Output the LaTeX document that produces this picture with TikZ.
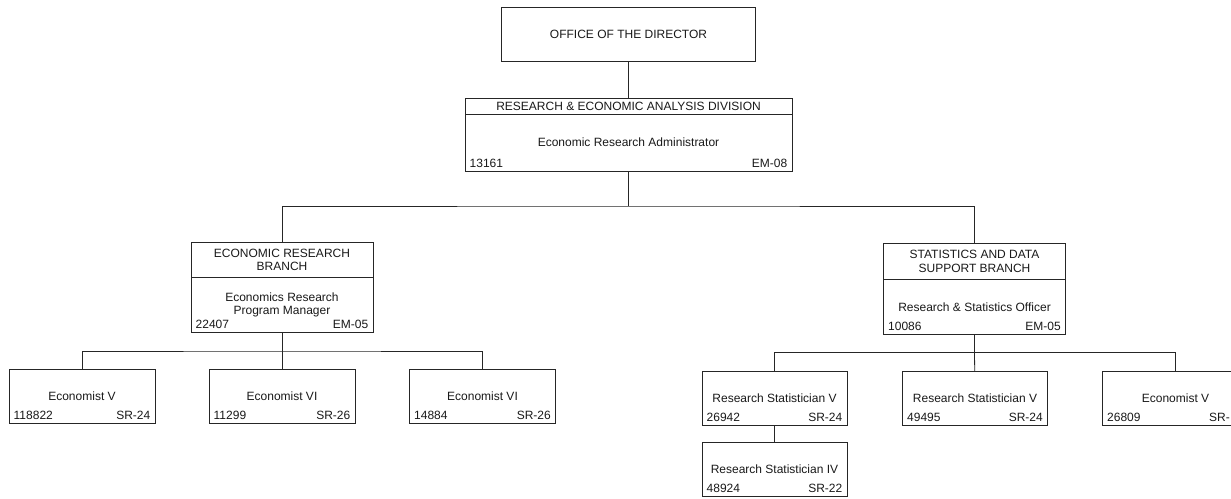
\documentclass[tikz,border=0pt]{standalone}
\usepackage{fontspec}
\setmainfont{Liberation Sans}
\usepackage{tikz}
\newcommand{\chartfont}{\fontsize{12}{13.7}\selectfont}

\begin{document}
\begin{tikzpicture}[x=1pt,y=-1pt,
    post/.style={draw=black!85, line width=0.8pt, outer sep=0pt, inner sep=0pt, align=center, font=\chartfont, text=black!90},
    num/.style={font=\chartfont, text=black!90, inner sep=0pt, anchor=base west, xshift=4.5pt, yshift=4pt},
    grade/.style={font=\chartfont, text=black!90, inner sep=0pt, anchor=base east, xshift=-4.5pt, yshift=4pt},
    link/.style={draw=black!85, line width=0.8pt}]
    \useasboundingbox (0,0) rectangle (1231,498);
    \clip (0,0) rectangle (1231,498);

    \node[post, minimum width=254pt, minimum height=54pt] (dir) at (628.5,34) {OFFICE OF THE DIRECTOR};

    \node[post, minimum width=327pt, minimum height=16pt] (divhead) at (628.5,106) {RESEARCH \& ECONOMIC ANALYSIS DIVISION};
    \node[post, minimum width=327pt, minimum height=57pt, anchor=north] (div) at (divhead.south) {Economic Research Administrator};
    \node[num] (divno) at (div.south west) {13161};
    \node[grade] (divgr) at (div.south east) {EM-08};

    \node[post, minimum width=182pt, minimum height=35.4pt] (erbhead) at (282,260) {ECONOMIC RESEARCH\\BRANCH};
    \node[post, minimum width=182pt, minimum height=54.6pt, anchor=north] (erb) at (erbhead.south) {Economics Research\\Program Manager};
    \node[num] (erbno) at (erb.south west) {22407};
    \node[grade] (erbgr) at (erb.south east) {EM-05};

    \node[post, minimum width=182pt, minimum height=36pt] (sdshead) at (974.5,261.3) {STATISTICS AND DATA\\SUPPORT BRANCH};
    \node[post, minimum width=182pt, minimum height=55pt, anchor=north] (sds) at (sdshead.south) {Research \& Statistics Officer};
    \node[num] (sdsno) at (sds.south west) {10086};
    \node[grade] (sdsgr) at (sds.south east) {EM-05};

    \node[post, minimum width=146pt, minimum height=54pt] (econ1) at (82,396) {Economist V};
    \node[num] (econ1no) at (econ1.south west) {118822};
    \node[grade] (econ1gr) at (econ1.south east) {SR-24};
    \node[post, minimum width=146pt, minimum height=54pt] (econ2) at (282,396) {Economist VI};
    \node[num] (econ2no) at (econ2.south west) {11299};
    \node[grade] (econ2gr) at (econ2.south east) {SR-26};
    \node[post, minimum width=146pt, minimum height=54pt] (econ3) at (482.5,396) {Economist VI};
    \node[num] (econ3no) at (econ3.south west) {14884};
    \node[grade] (econ3gr) at (econ3.south east) {SR-26};

    \node[post, minimum width=145pt, minimum height=54pt] (stat1) at (774.5,398) {Research Statistician V};
    \node[num] (stat1no) at (stat1.south west) {26942};
    \node[grade] (stat1gr) at (stat1.south east) {SR-24};
    \node[post, minimum width=145pt, minimum height=54pt] (stat2) at (975,398) {Research Statistician V};
    \node[num] (stat2no) at (stat2.south west) {49495};
    \node[grade] (stat2gr) at (stat2.south east) {SR-24};
    \node[post, minimum width=146pt, minimum height=54pt] (econ4) at (1175.5,398) {Economist V};
    \node[num] (econ4no) at (econ4.south west) {26809};
    \node[num] (econ4gr) at ([xshift=102pt]econ4.south west) {SR-};
    \node[post, minimum width=145pt, minimum height=54pt] (stat3) at (774.5,469.5) {Research Statistician IV};
    \node[num] (stat3no) at (stat3.south west) {48924};
    \node[grade] (stat3gr) at (stat3.south east) {SR-22};

    \coordinate (divbus) at (628.5,206);
    \coordinate (erbbus) at (282,351);
    \coordinate (sdsbus) at (974.5,352.5);
    \draw[link] (dir) -- (divhead);
    \draw[link] (div) -- (divbus);
    \draw[link] (erbhead) |- (divbus) -| (sdshead);
    \draw[link] (erb) -- (erbbus);
    \draw[link] (econ1) |- (erbbus) -| (econ3);
    \draw[link] (econ2) -- (erbbus);
    \draw[link] (sds) -- (sdsbus);
    \draw[link] (stat1) |- (sdsbus) -| (econ4);
    \draw[link] (stat2) -- (sdsbus);
    \draw[link] (stat1) -- (stat3);
\end{tikzpicture}
\end{document}
